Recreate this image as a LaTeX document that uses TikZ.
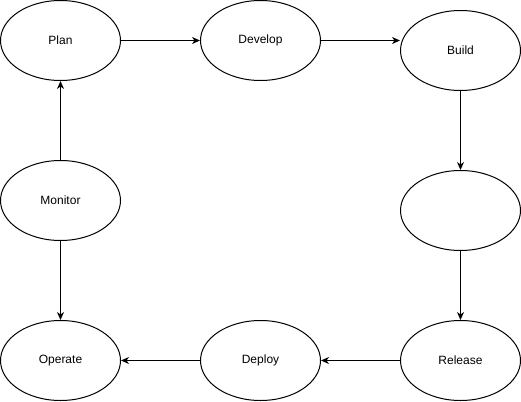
\documentclass[tikz,border=0pt]{standalone}
\usepackage{fontspec}
\setmainfont{Liberation Sans}
\usetikzlibrary{shapes.geometric,arrows.meta}
\begin{document}
\begin{tikzpicture}[x=1pt,y=-1pt,
  stage/.style={ellipse,draw=black,line width=1pt,minimum width=120pt,minimum height=80pt,inner sep=0pt,font=\fontsize{12}{14}\selectfont},
  flow/.style={draw=black,line width=1pt,-{Stealth[length=8pt,width=7pt,inset=2.5pt]}}]
\useasboundingbox (0,0) rectangle (521,401);
\node[stage] (plan) at (60.5,40.5) {Plan};
\node[stage] (develop) at (260.5,40.5) {Develop};
\node[stage] (build) at (460.5,50.5) {Build};
\node[stage] (blank) at (460.5,210.5) {};
\node[stage] (release) at (460.5,360.5) {Release};
\node[stage] (deploy) at (260.5,360.5) {Deploy};
\node[stage] (operate) at (60.5,360.5) {Operate};
\node[stage] (monitor) at (60.5,200.5) {Monitor};
\draw[flow] (plan) -- (develop);
\draw[flow] (develop.east) -- (develop.east -| build.west);
\draw[flow] (build) -- (blank);
\draw[flow] (blank) -- (release);
\draw[flow] (release) -- (deploy);
\draw[flow] (deploy) -- (operate);
\draw[flow] (monitor) -- (operate);
\draw[flow] (monitor) -- (plan);
\end{tikzpicture}
\end{document}
